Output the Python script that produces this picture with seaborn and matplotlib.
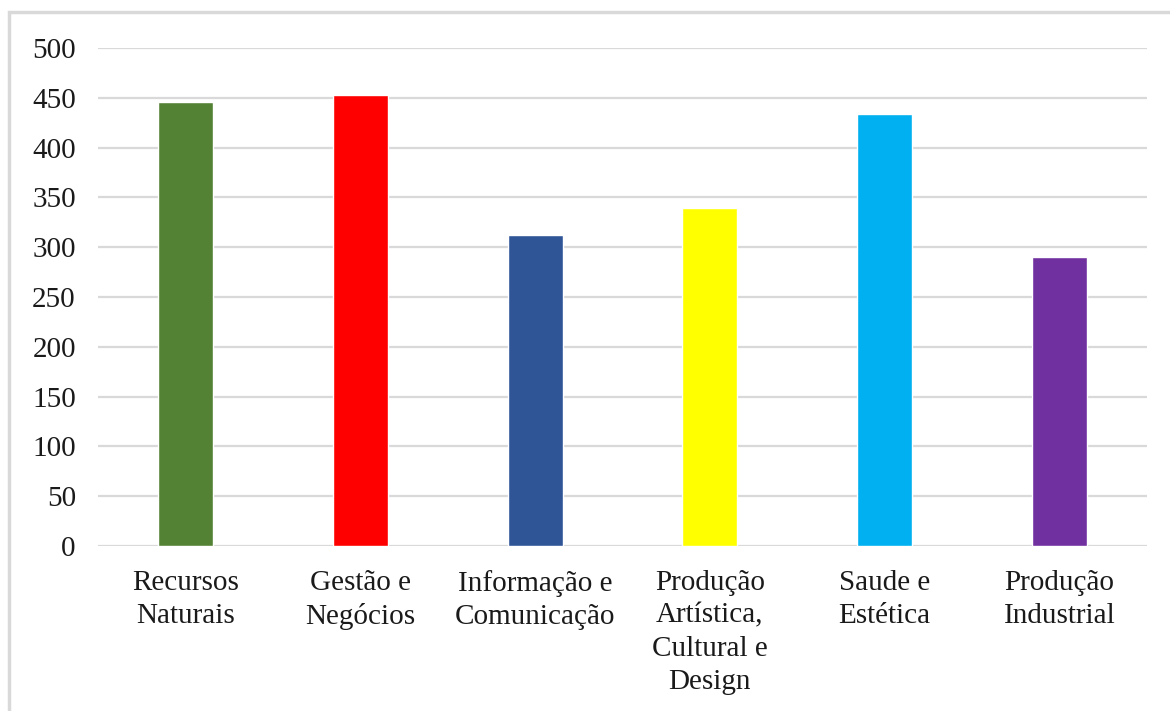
import matplotlib.pyplot as plt
import matplotlib.patches as mpatches
import seaborn as sns
import pandas as pd

# Dados do grafico
categorias = ['Recursos\nNaturais', 'Gestão e\nNegócios', 'Informação e\nComunicação',
              'Produção\nArtística,\nCultural e\nDesign', 'Saude e\nEstética', 'Produção\nIndustrial']
valores = [446, 453, 312, 339, 434, 290]
cores = ['#548235', '#FF0000', '#2F5597', '#FFFF00', '#00B0F0', '#7030A0']
yticks = [0, 50, 100, 150, 200, 250, 300, 350, 400, 450, 500]

df = pd.DataFrame({'categoria': categorias, 'valor': valores})

sns.set_style('white')
plt.rcParams['font.family'] = ['Liberation Serif', 'DejaVu Serif']

fig = plt.figure(figsize=(11.7, 7.11), dpi=100)
ax = fig.add_axes([0.0838, 0.232, 0.8965, 0.7005])

sns.barplot(data=df, x='categoria', y='valor', hue='categoria', palette=cores,
            width=0.315, legend=False, saturation=1, ax=ax)

ax.set_ylim(0, 500)
ax.set_yticks(yticks)
ax.set_xlim(-0.5, len(categorias) - 0.5)
ax.yaxis.grid(True, color='#d9d9d9', linewidth=1.6)
ax.set_axisbelow(True)
for s in ax.spines.values():
    s.set_visible(False)
ax.tick_params(axis='y', length=0, pad=16, labelsize=21, labelcolor='#1a1a1a')
ax.tick_params(axis='x', length=0, pad=17, labelsize=21, labelcolor='#1a1a1a')
for lbl in ax.get_xticklabels():
    lbl.set_linespacing(1.35)
ax.set_xlabel('')
ax.set_ylabel('')

# moldura externa (so topo e esquerda visiveis)
fig.patches.append(mpatches.Rectangle((9 / 1170, -0.05), 1.1, 1.05 - 12 / 711,
                                      transform=fig.transFigure, fill=False,
                                      edgecolor='#d9d9d9', linewidth=2.5))

fig.savefig('out.png', dpi=100)
